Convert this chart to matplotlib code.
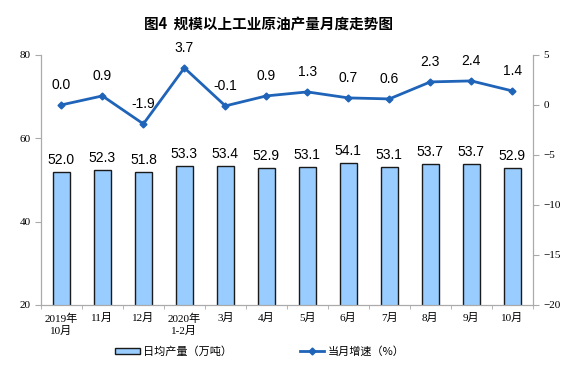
import matplotlib.pyplot as plt
import numpy as np

plt.rcParams['font.family'] = ['Liberation Sans', 'Noto Sans CJK SC']

months = ['2019年\n10月', '11月', '12月', '2020年\n1-2月', '3月', '4月', '5月',
          '6月', '7月', '8月', '9月', '10月']
output = [52.0, 52.3, 51.8, 53.3, 53.4, 52.9, 53.1, 54.1, 53.1, 53.7, 53.7, 52.9]
growth = [0.0, 0.9, -1.9, 3.7, -0.1, 0.9, 1.3, 0.7, 0.6, 2.3, 2.4, 1.4]

serif = ['Liberation Serif', 'Noto Sans CJK SC']
x = np.arange(len(months))

fig = plt.figure(figsize=(5.76, 3.84), dpi=100)
ax = fig.add_axes([0.071, 0.206, 0.854, 0.651])
ax2 = ax.twinx()

bars = ax.bar(x, output, width=0.42, color='#99CCFF', edgecolor='#1a1a1a',
              linewidth=1.0, label='日均产量（万吨）', zorder=2)
for xi, v in zip(x, output):
    ax.text(xi, v + 1.2, f'{v:.1f}', ha='center', va='bottom', fontsize=10)

ax.set_ylim(20, 80)
ax.set_yticks([20, 40, 60, 80])
ax.set_xlim(-0.5, len(months) - 0.5)
ax.set_xticks(x)
ax.set_xticklabels(months, family=serif, fontsize=8, linespacing=1.3)
ax.tick_params(axis='x', length=0, pad=6)
ax.set_xticks(np.arange(-0.5, len(months)), minor=True)
ax.tick_params(axis='x', which='minor', length=3, color='#aaaaaa', direction='out')
ax.tick_params(axis='y', length=4, color='#aaaaaa', labelsize=8)
for lab in ax.get_yticklabels():
    lab.set_family(serif)

line, = ax2.plot(x, growth, color='#1F64B8', linewidth=2, marker='D',
                 markersize=3.5, label='当月增速（%）', zorder=3)
for xi, v in zip(x, growth):
    ax2.text(xi, v + 1.3, f'{v:.1f}', ha='center', va='bottom', fontsize=10)
ax2.set_ylim(-20, 5)
ax2.set_yticks([-20, -15, -10, -5, 0, 5])
ax2.tick_params(axis='y', length=4, color='#aaaaaa', labelsize=8)
for lab in ax2.get_yticklabels():
    lab.set_family(serif)

for a in (ax, ax2):
    a.spines['top'].set_visible(False)
    for s in ('left', 'right', 'bottom'):
        a.spines[s].set_color('#aaaaaa')

fig.text(0.466, 0.935, '图4  规模以上工业原油产量月度走势图', ha='center', va='center',
         fontsize=10.5, fontweight='bold', family='Noto Sans CJK SC')

fig.legend([bars, line], ['日均产量（万吨）', '当月增速（%）'], loc='center',
           bbox_to_anchor=(0.451, 0.085), ncol=2, frameon=False,
           columnspacing=6.1, handlelength=2.2, handleheight=0.5, handletextpad=0.3,
           prop={'family': 'Noto Sans CJK SC', 'size': 8})

fig.savefig('out.png', dpi=100)
